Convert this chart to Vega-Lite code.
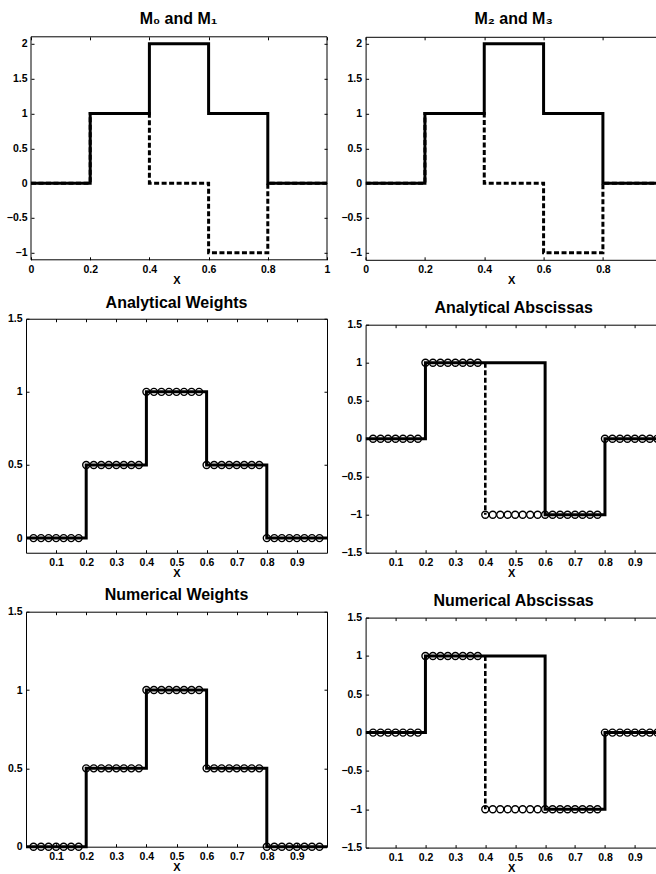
{
  "$schema": "https://vega.github.io/schema/vega-lite/v6.json",
  "padding": {"left": 0, "top": 10.8, "right": 0, "bottom": 0},
  "background": "white",
  "config": {
    "font": "Liberation Sans",
    "view": {"stroke": null},
    "axis": {"grid": false, "domainColor": "#000", "domainWidth": 1, "tickColor": "#000", "tickWidth": 1, "tickSize": -3,
      "labelFont": "Liberation Sans", "labelFontSize": 10.5, "labelFontWeight": "bold", "labelColor": "#000",
      "labelFlush": false, "labelOverlap": false, "titleFont": "Liberation Sans", "titleFontSize": 11, "titleFontWeight": "bold", "titleColor": "#000"},
    "axisX": {"labelPadding": 7.5, "titlePadding": 0},
    "axisY": {"labelPadding": 7},
    "title": {"font": "Liberation Sans", "fontSize": 16, "fontWeight": "bold", "color": "#000", "anchor": "middle", "offset": 3.2}
  },
  "datasets": {
    "m0": [{"i":0,"x":0,"y":0},{"i":1,"x":0.2,"y":0},{"i":2,"x":0.2,"y":1},{"i":3,"x":0.4,"y":1},{"i":4,"x":0.4,"y":2},{"i":5,"x":0.6,"y":2},{"i":6,"x":0.6,"y":1},{"i":7,"x":0.8,"y":1},{"i":8,"x":0.8,"y":0},{"i":9,"x":1,"y":0}],
    "m1": [{"i":0,"x":0,"y":0},{"i":1,"x":0.2,"y":0},{"i":2,"x":0.2,"y":1},{"i":3,"x":0.4,"y":1},{"i":4,"x":0.4,"y":0},{"i":5,"x":0.6,"y":0},{"i":6,"x":0.6,"y":-1},{"i":7,"x":0.8,"y":-1},{"i":8,"x":0.8,"y":0},{"i":9,"x":1,"y":0}],
    "wline": [{"i":0,"x":0,"y":0},{"i":1,"x":0.2,"y":0},{"i":2,"x":0.2,"y":0.5},{"i":3,"x":0.4,"y":0.5},{"i":4,"x":0.4,"y":1},{"i":5,"x":0.6,"y":1},{"i":6,"x":0.6,"y":0.5},{"i":7,"x":0.8,"y":0.5},{"i":8,"x":0.8,"y":0},{"i":9,"x":1,"y":0}],
    "wpts": [{"x":0.025,"y":0},{"x":0.05,"y":0},{"x":0.075,"y":0},{"x":0.1,"y":0},{"x":0.125,"y":0},{"x":0.15,"y":0},{"x":0.175,"y":0},
      {"x":0.2,"y":0.5},{"x":0.225,"y":0.5},{"x":0.25,"y":0.5},{"x":0.275,"y":0.5},{"x":0.3,"y":0.5},{"x":0.325,"y":0.5},{"x":0.35,"y":0.5},{"x":0.375,"y":0.5},
      {"x":0.4,"y":1},{"x":0.425,"y":1},{"x":0.45,"y":1},{"x":0.475,"y":1},{"x":0.5,"y":1},{"x":0.525,"y":1},{"x":0.55,"y":1},{"x":0.575,"y":1},
      {"x":0.6,"y":0.5},{"x":0.625,"y":0.5},{"x":0.65,"y":0.5},{"x":0.675,"y":0.5},{"x":0.7,"y":0.5},{"x":0.725,"y":0.5},{"x":0.75,"y":0.5},{"x":0.775,"y":0.5},
      {"x":0.8,"y":0},{"x":0.825,"y":0},{"x":0.85,"y":0},{"x":0.875,"y":0},{"x":0.9,"y":0},{"x":0.925,"y":0},{"x":0.95,"y":0},{"x":0.975,"y":0}],
    "aline": [{"i":0,"x":0,"y":0},{"i":1,"x":0.2,"y":0},{"i":2,"x":0.2,"y":1},{"i":3,"x":0.6,"y":1},{"i":4,"x":0.6,"y":-1},{"i":5,"x":0.8,"y":-1},{"i":6,"x":0.8,"y":0},{"i":7,"x":1,"y":0}],
    "adash": [{"i":0,"x":0.4,"y":1},{"i":1,"x":0.4,"y":-1}],
    "apts": [{"x":0.025,"y":0},{"x":0.05,"y":0},{"x":0.075,"y":0},{"x":0.1,"y":0},{"x":0.125,"y":0},{"x":0.15,"y":0},{"x":0.175,"y":0},
      {"x":0.2,"y":1},{"x":0.225,"y":1},{"x":0.25,"y":1},{"x":0.275,"y":1},{"x":0.3,"y":1},{"x":0.325,"y":1},{"x":0.35,"y":1},{"x":0.375,"y":1},
      {"x":0.4,"y":-1},{"x":0.425,"y":-1},{"x":0.45,"y":-1},{"x":0.475,"y":-1},{"x":0.5,"y":-1},{"x":0.525,"y":-1},{"x":0.55,"y":-1},{"x":0.575,"y":-1},
      {"x":0.6,"y":-1},{"x":0.625,"y":-1},{"x":0.65,"y":-1},{"x":0.675,"y":-1},{"x":0.7,"y":-1},{"x":0.725,"y":-1},{"x":0.75,"y":-1},{"x":0.775,"y":-1},
      {"x":0.8,"y":0},{"x":0.825,"y":0},{"x":0.85,"y":0},{"x":0.875,"y":0},{"x":0.9,"y":0},{"x":0.925,"y":0},{"x":0.95,"y":0},{"x":0.975,"y":0}]
  },
  "spacing": 2.6,
  "hconcat": [
    {
      "spacing": 7.95,
      "vconcat": [
        {
          "width": 301, "height": 223,
          "title": {"text": "M₀ and M₁", "offset": 9.4, "dx": 2},
          "resolve": {"axis": {"x": "independent", "y": "independent"}},
          "layer": [
            {"data": {"values": [{}]},
             "mark": {"type": "rect", "filled": false, "stroke": "#000", "strokeWidth": 1},
             "encoding": {
               "x": {"datum": 0, "type": "quantitative", "axis": null, "scale": {"domain": [-0.0169, 1], "nice": false, "zero": false}},
               "x2": {"datum": 1},
               "y": {"datum": -1.1, "type": "quantitative", "axis": null, "scale": {"domain": [-1.1, 2.1], "nice": false, "zero": false}},
               "y2": {"datum": 2.1}}},
            {"data": {"name": "m1"},
             "mark": {"type": "line", "color": "#000", "strokeWidth": 3, "strokeDash": [5, 2.5]},
             "encoding": {
               "x": {"field": "x", "type": "quantitative", "axis": {"orient": "bottom", "values": [0, 0.2, 0.4, 0.6, 0.8, 1], "format": "~g", "title": "X", "domain": false}},
               "y": {"field": "y", "type": "quantitative", "axis": {"values": [-1, -0.5, 0, 0.5, 1, 1.5, 2], "format": "~g", "title": null, "domain": false, "offset": -5, "minExtent": 0, "maxExtent": 0}},
               "order": {"field": "i", "type": "quantitative"}}},
            {"data": {"name": "m0"},
             "mark": {"type": "line", "color": "#000", "strokeWidth": 3},
             "encoding": {
               "x": {"field": "x", "type": "quantitative", "axis": {"orient": "top", "values": [0, 0.2, 0.4, 0.6, 0.8, 1], "labels": false, "title": null, "domain": false, "minExtent": 0, "maxExtent": 0}},
               "y": {"field": "y", "type": "quantitative", "axis": {"orient": "right", "values": [-1, -0.5, 0, 0.5, 1, 1.5, 2], "labels": false, "title": null, "domain": false, "minExtent": 0, "maxExtent": 0}},
               "order": {"field": "i", "type": "quantitative"}}}
          ]
        },
        {
          "width": 301, "height": 234,
          "title": {"text": "Analytical Weights"},
          "resolve": {"axis": {"x": "independent", "y": "independent"}},
          "layer": [
            {"data": {"name": "wline"},
             "mark": {"type": "line", "color": "#000", "strokeWidth": 3},
             "encoding": {
               "x": {"field": "x", "type": "quantitative", "scale": {"domain": [0, 1], "nice": false, "zero": false}, "axis": {"orient": "bottom", "values": [0.1, 0.2, 0.3, 0.4, 0.5, 0.6, 0.7, 0.8, 0.9], "format": "~g", "title": "X"}},
               "y": {"field": "y", "type": "quantitative", "scale": {"domain": [-0.1, 1.5], "nice": false, "zero": false}, "axis": {"values": [0, 0.5, 1, 1.5], "format": "~g", "title": null, "minExtent": 26, "maxExtent": 26}},
               "order": {"field": "i", "type": "quantitative"}}},
            {"data": {"name": "wpts"},
             "mark": {"type": "point", "shape": "circle", "filled": false, "color": "#000", "size": 49, "strokeWidth": 1.4, "opacity": 1},
             "encoding": {
               "x": {"field": "x", "type": "quantitative", "axis": {"orient": "top", "values": [0.1, 0.2, 0.3, 0.4, 0.5, 0.6, 0.7, 0.8, 0.9], "labels": false, "title": null, "minExtent": 0, "maxExtent": 0}},
               "y": {"field": "y", "type": "quantitative", "axis": {"orient": "right", "values": [0, 0.5, 1, 1.5], "labels": false, "title": null, "minExtent": 0, "maxExtent": 0}}}}
          ]
        },
        {
          "width": 301, "height": 235,
          "title": {"text": "Numerical Weights"},
          "resolve": {"axis": {"x": "independent", "y": "independent"}},
          "layer": [
            {"data": {"name": "wline"},
             "mark": {"type": "line", "color": "#000", "strokeWidth": 3},
             "encoding": {
               "x": {"field": "x", "type": "quantitative", "scale": {"domain": [0, 1], "nice": false, "zero": false}, "axis": {"orient": "bottom", "values": [0.1, 0.2, 0.3, 0.4, 0.5, 0.6, 0.7, 0.8, 0.9], "format": "~g", "title": "X"}},
               "y": {"field": "y", "type": "quantitative", "scale": {"domain": [0, 1.5], "nice": false, "zero": false}, "axis": {"values": [0, 0.5, 1, 1.5], "format": "~g", "title": null, "minExtent": 26, "maxExtent": 26}},
               "order": {"field": "i", "type": "quantitative"}}},
            {"data": {"name": "wpts"},
             "mark": {"type": "point", "shape": "circle", "filled": false, "color": "#000", "size": 49, "strokeWidth": 1.4, "opacity": 1},
             "encoding": {
               "x": {"field": "x", "type": "quantitative", "axis": {"orient": "top", "values": [0.1, 0.2, 0.3, 0.4, 0.5, 0.6, 0.7, 0.8, 0.9], "labels": false, "title": null, "minExtent": 0, "maxExtent": 0}},
               "y": {"field": "y", "type": "quantitative", "axis": {"orient": "right", "values": [0, 0.5, 1, 1.5], "labels": false, "title": null, "minExtent": 0, "maxExtent": 0}}}}
          ]
        }
      ]
    },
    {
      "spacing": 13.9,
      "vconcat": [
        {
          "width": 291, "height": 223,
          "title": {"text": "M₂ and M₃", "offset": 9.4, "dx": 2.5},
          "resolve": {"axis": {"x": "independent", "y": "independent"}},
          "layer": [
            {"data": {"name": "m1"},
             "mark": {"type": "line", "color": "#000", "strokeWidth": 3, "strokeDash": [5, 2.5], "clip": true},
             "encoding": {
               "x": {"field": "x", "type": "quantitative", "scale": {"domain": [0, 0.981], "nice": false, "zero": false}, "axis": {"orient": "bottom", "values": [0, 0.2, 0.4, 0.6, 0.8], "format": "~g", "title": "X"}},
               "y": {"field": "y", "type": "quantitative", "scale": {"domain": [-1.1, 2.1], "nice": false, "zero": false}, "axis": {"values": [-1, -0.5, 0, 0.5, 1, 1.5, 2], "format": "~g", "title": null, "minExtent": 30, "maxExtent": 30}},
               "order": {"field": "i", "type": "quantitative"}}},
            {"data": {"name": "m0"},
             "mark": {"type": "line", "color": "#000", "strokeWidth": 3, "clip": true},
             "encoding": {
               "x": {"field": "x", "type": "quantitative", "axis": {"orient": "top", "values": [0, 0.2, 0.4, 0.6, 0.8], "labels": false, "title": null, "minExtent": 0, "maxExtent": 0}},
               "y": {"field": "y", "type": "quantitative", "axis": null},
               "order": {"field": "i", "type": "quantitative"}}}
          ]
        },
        {
          "width": 291, "height": 228,
          "title": {"text": "Analytical Abscissas", "dx": 2.5},
          "resolve": {"axis": {"x": "independent", "y": "independent"}},
          "layer": [
            {"data": {"name": "aline"},
             "mark": {"type": "line", "color": "#000", "strokeWidth": 3, "clip": true},
             "encoding": {
               "x": {"field": "x", "type": "quantitative", "scale": {"domain": [0, 0.9726], "nice": false, "zero": false}, "axis": {"orient": "bottom", "values": [0.1, 0.2, 0.3, 0.4, 0.5, 0.6, 0.7, 0.8, 0.9], "format": "~g", "title": "X"}},
               "y": {"field": "y", "type": "quantitative", "scale": {"domain": [-1.5, 1.5], "nice": false, "zero": false}, "axis": {"values": [-1.5, -1, -0.5, 0, 0.5, 1, 1.5], "format": "~g", "title": null, "minExtent": 30, "maxExtent": 30}},
               "order": {"field": "i", "type": "quantitative"}}},
            {"data": {"name": "adash"},
             "mark": {"type": "line", "color": "#000", "strokeWidth": 2.6, "strokeDash": [5, 2.5], "clip": true},
             "encoding": {
               "x": {"field": "x", "type": "quantitative", "axis": null},
               "y": {"field": "y", "type": "quantitative", "axis": null},
               "order": {"field": "i", "type": "quantitative"}}},
            {"data": {"name": "apts"},
             "mark": {"type": "point", "shape": "circle", "filled": false, "color": "#000", "size": 49, "strokeWidth": 1.4, "opacity": 1, "clip": true},
             "encoding": {
               "x": {"field": "x", "type": "quantitative", "axis": {"orient": "top", "values": [0.1, 0.2, 0.3, 0.4, 0.5, 0.6, 0.7, 0.8, 0.9], "labels": false, "title": null, "minExtent": 0, "maxExtent": 0}},
               "y": {"field": "y", "type": "quantitative", "axis": null}}}
          ]
        },
        {
          "width": 291, "height": 230,
          "title": {"text": "Numerical Abscissas", "dx": 2.5},
          "resolve": {"axis": {"x": "independent", "y": "independent"}},
          "layer": [
            {"data": {"name": "aline"},
             "mark": {"type": "line", "color": "#000", "strokeWidth": 3, "clip": true},
             "encoding": {
               "x": {"field": "x", "type": "quantitative", "scale": {"domain": [0, 0.9726], "nice": false, "zero": false}, "axis": {"orient": "bottom", "values": [0.1, 0.2, 0.3, 0.4, 0.5, 0.6, 0.7, 0.8, 0.9], "format": "~g", "title": "X"}},
               "y": {"field": "y", "type": "quantitative", "scale": {"domain": [-1.5, 1.5], "nice": false, "zero": false}, "axis": {"values": [-1.5, -1, -0.5, 0, 0.5, 1, 1.5], "format": "~g", "title": null, "minExtent": 30, "maxExtent": 30}},
               "order": {"field": "i", "type": "quantitative"}}},
            {"data": {"name": "adash"},
             "mark": {"type": "line", "color": "#000", "strokeWidth": 2.6, "strokeDash": [5, 2.5], "clip": true},
             "encoding": {
               "x": {"field": "x", "type": "quantitative", "axis": null},
               "y": {"field": "y", "type": "quantitative", "axis": null},
               "order": {"field": "i", "type": "quantitative"}}},
            {"data": {"name": "apts"},
             "mark": {"type": "point", "shape": "circle", "filled": false, "color": "#000", "size": 49, "strokeWidth": 1.4, "opacity": 1, "clip": true},
             "encoding": {
               "x": {"field": "x", "type": "quantitative", "axis": {"orient": "top", "values": [0.1, 0.2, 0.3, 0.4, 0.5, 0.6, 0.7, 0.8, 0.9], "labels": false, "title": null, "minExtent": 0, "maxExtent": 0}},
               "y": {"field": "y", "type": "quantitative", "axis": null}}}
          ]
        }
      ]
    }
  ]
}
